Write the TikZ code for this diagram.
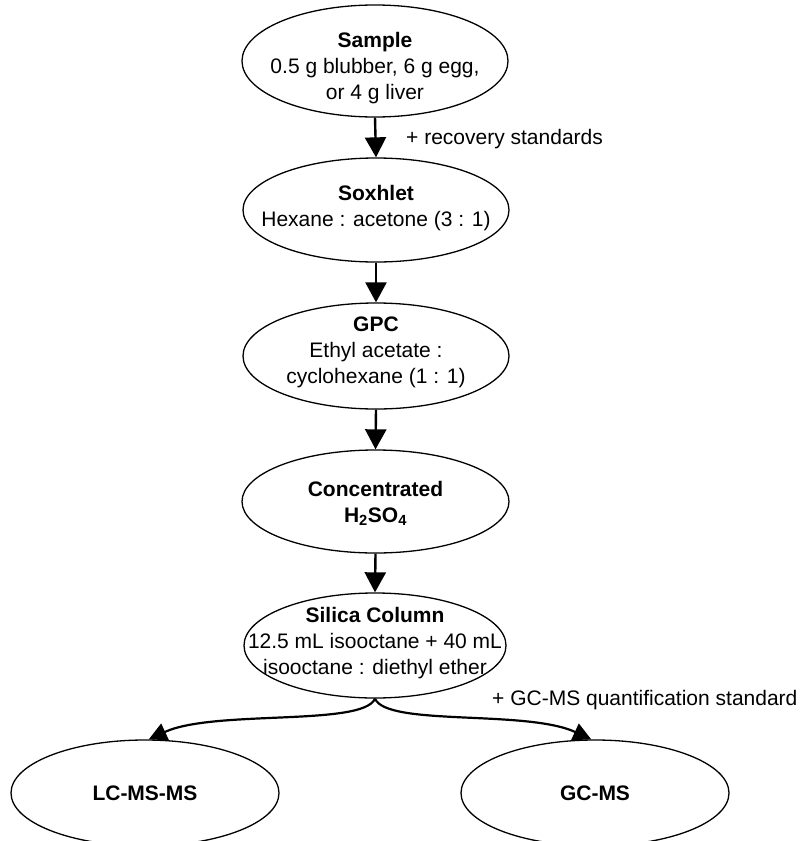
\documentclass[tikz,border=0pt]{standalone}
\usepackage{fontspec}
\setmainfont{Liberation Sans}
\usetikzlibrary{shapes.geometric,arrows.meta}
\tikzset{
  stage/.style={draw=black, line width=1.3pt, ellipse, inner sep=0pt},
  txt/.style={align=center, inner sep=0pt, font=\fontsize{21}{26}\selectfont},
  arr/.style={line width=2.4pt, -{Triangle[width=21pt,length=20pt]}},
  carr/.style={line width=2.2pt, -{Triangle[width=18pt,length=18pt]}},
}
\begin{document}
\begin{tikzpicture}[x=1pt,y=-1pt]
\useasboundingbox (0,0) rectangle (804,841);
% ellipses
\node[stage, minimum width=266pt, minimum height=112pt] (sample) at (375,61) {};
\node[stage, minimum width=266pt, minimum height=104pt] (soxhlet) at (376,210) {};
\node[stage, minimum width=266pt, minimum height=106pt] (gpc) at (376,356) {};
\node[stage, minimum width=267pt, minimum height=103pt] (conc) at (375.5,501.5) {};
\node[stage, minimum width=262pt, minimum height=105pt] (silica) at (375,645.5) {};
\node[stage, minimum width=268pt, minimum height=106pt] (lc) at (145,793) {};
\node[stage, minimum width=268pt, minimum height=106pt] (gc) at (595,793) {};
% texts
\node[txt] (sampletxt) at (375,68) {\textbf{Sample}\\0.5 g blubber, 6 g egg,\\or 4 g liver};
\node[txt] (soxhlettxt) at (376,208) {\textbf{Soxhlet}\\Hexane : acetone (3 : 1)};
\node[txt] (gpctxt) at (376,352) {\textbf{GPC}\\Ethyl acetate :\\cyclohexane (1 : 1)};
\node[txt] (conctxt) at (375.5,503) {\textbf{Concentrated}\\\textbf{H\textsubscript{2}SO\textsubscript{4}}};
\node[txt] (silicatxt) at (375,643) {\textbf{Silica Column}\\12.5 mL isooctane + 40 mL\\isooctane : diethyl ether};
\node[txt] (lctxt) at (145,793) {\textbf{LC-MS-MS}};
\node[txt] (gctxt) at (595,793) {\textbf{GC-MS}};
% labels
\node[txt, anchor=west] (rec) at (406,139) {+ recovery standards};
\node[txt, anchor=west] (gcstd) at (492,700) {+ GC-MS quantification standard};
% connectors
\draw[arr] (sample.south) -- (soxhlet.north);
\draw[arr] (soxhlet.south) -- (gpc.north);
\draw[arr] (gpc.south) -- (conc.north);
\draw[arr] (conc.south) -- (silica.north);
\draw[carr] (silica.south) .. controls +(-12,28) and +(65,-30) .. (lc.86);
\draw[carr] (silica.south) .. controls +(12,28) and +(-65,-30) .. (gc.94);
\end{tikzpicture}
\end{document}
